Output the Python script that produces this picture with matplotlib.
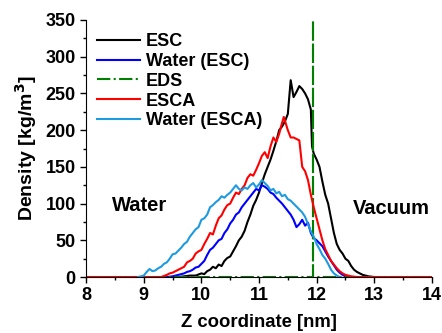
import matplotlib
matplotlib.use("Agg")
import matplotlib.pyplot as plt
from matplotlib.ticker import MultipleLocator

plt.rcParams['font.family'] = ['Liberation Sans', 'DejaVu Sans']
plt.rcParams['font.weight'] = 'bold'
plt.rcParams['mathtext.default'] = 'bf'

# ESC density profile (z in nm, density in kg/m^3)
z_esc = [8.0, 9.60, 9.70, 9.80, 9.90, 10.00, 10.05, 10.10, 10.15, 10.20, 10.25, 10.30, 10.35,
         10.40, 10.45, 10.50, 10.55, 10.60, 10.65, 10.70, 10.75, 10.80, 10.85, 10.90, 10.95,
         11.00, 11.05, 11.10, 11.15, 11.20, 11.25, 11.30, 11.35, 11.40, 11.45, 11.50, 11.55,
         11.60, 11.65, 11.70, 11.75, 11.80, 11.85, 11.90, 11.92, 11.95, 12.00, 12.05, 12.10,
         12.15, 12.20, 12.25, 12.30, 12.35, 12.40, 12.45, 12.50, 12.55, 12.60, 12.65, 12.70,
         12.75, 12.80, 12.90, 13.00, 14.0]
d_esc = [0, 0, 1, 2, 2, 5, 4, 8, 10, 14, 12, 17, 15,
         22, 26, 28, 35, 42, 50, 55, 63, 75, 85, 97, 105,
         115, 128, 140, 150, 160, 172, 185, 200, 205, 212, 222, 268,
         245, 252, 260, 256, 250, 242, 228, 178, 168, 160, 150, 130,
         112, 100, 80, 60, 45, 37, 32, 25, 22, 15, 10, 7,
         5, 3, 1, 0, 0]

# Water density with ESC
z_wesc = [8.0, 9.40, 9.50, 9.60, 9.70, 9.75, 9.80, 9.85, 9.90, 9.95, 10.00, 10.05, 10.10,
          10.15, 10.20, 10.25, 10.30, 10.35, 10.40, 10.45, 10.50, 10.55, 10.60, 10.65, 10.70,
          10.75, 10.80, 10.85, 10.90, 10.95, 11.00, 11.05, 11.10, 11.15, 11.20, 11.25, 11.30,
          11.35, 11.40, 11.45, 11.50, 11.55, 11.60, 11.65, 11.70, 11.75, 11.80, 11.85, 11.90,
          11.95, 12.00, 12.05, 12.10, 12.15, 12.20, 12.25, 12.30, 12.35, 12.40, 12.45, 12.50,
          12.60, 14.0]
d_wesc = [0, 0, 1, 3, 5, 7, 8, 10, 13, 14, 18, 22, 30,
          37, 40, 45, 50, 52, 60, 65, 73, 78, 85, 88, 95,
          100, 105, 110, 115, 120, 118, 125, 123, 120, 115, 113, 108,
          104, 100, 95, 90, 85, 78, 68, 72, 78, 70, 74, 60,
          53, 50, 46, 42, 35, 28, 22, 16, 10, 6, 3, 1,
          0, 0]

# EDS position
z_eds = [8.0, 11.93, 11.93, 11.93, 14.0]
d_eds = [0, 0, 350, 0, 0]

# ESCA density profile
z_esca = [8.0, 9.30, 9.40, 9.45, 9.50, 9.55, 9.60, 9.65, 9.70, 9.75, 9.80, 9.85, 9.90, 9.95,
          10.00, 10.05, 10.10, 10.15, 10.20, 10.25, 10.30, 10.35, 10.40, 10.45, 10.50, 10.55,
          10.60, 10.65, 10.70, 10.75, 10.80, 10.85, 10.90, 10.95, 11.00, 11.05, 11.10, 11.15,
          11.20, 11.25, 11.30, 11.35, 11.40, 11.43, 11.50, 11.55, 11.60, 11.65, 11.70, 11.75,
          11.80, 11.85, 11.90, 11.95, 12.00, 12.05, 12.10, 12.15, 12.20, 12.25, 12.30, 12.35,
          12.40, 12.45, 12.50, 12.60, 12.70, 14.0]
d_esca = [0, 0, 3, 5, 6, 8, 10, 12, 14, 20, 22, 25, 32, 35,
          37, 45, 52, 60, 58, 70, 80, 84, 92, 98, 100, 108,
          115, 113, 120, 125, 135, 140, 138, 146, 155, 165, 170, 162,
          178, 190, 184, 195, 210, 218, 200, 190, 190, 188, 186, 150,
          144, 132, 112, 95, 80, 65, 50, 38, 30, 22, 17, 12,
          8, 5, 3, 1, 0, 0]

# Water density with ESCA
z_wesca = [8.90, 9.00, 9.05, 9.10, 9.15, 9.20, 9.25, 9.30, 9.35, 9.40, 9.45, 9.50, 9.55, 9.60,
           9.65, 9.70, 9.75, 9.80, 9.85, 9.90, 9.95, 10.00, 10.05, 10.10, 10.15, 10.20, 10.25,
           10.30, 10.35, 10.40, 10.45, 10.50, 10.55, 10.60, 10.65, 10.70, 10.75, 10.80, 10.85,
           10.90, 10.95, 11.00, 11.05, 11.10, 11.15, 11.20, 11.25, 11.30, 11.35, 11.40, 11.45,
           11.50, 11.55, 11.60, 11.65, 11.70, 11.75, 11.80, 11.85, 11.90, 11.95, 12.00, 12.05,
           12.10, 12.15, 12.20, 12.25, 12.30, 12.35, 12.40]
d_wesca = [0, 2, 7, 11, 8, 9, 12, 14, 18, 20, 25, 31, 32, 36,
           40, 45, 48, 55, 60, 65, 68, 78, 80, 85, 95, 98, 102,
           105, 110, 108, 112, 115, 120, 125, 120, 118, 122, 120, 125,
           128, 122, 126, 132, 128, 124, 118, 120, 114, 116, 110, 112,
           106, 104, 100, 96, 92, 88, 82, 72, 62, 55, 45, 38,
           30, 25, 18, 10, 5, 2, 0]

fig = plt.figure(figsize=(4.42, 3.33), dpi=100)
ax = fig.add_axes([0.195, 0.168, 0.782, 0.772])

ax.plot(z_esc, d_esc, color='black', lw=1.5, label='ESC')
ax.plot(z_wesc, d_wesc, color='#0000ff', lw=1.5, label='Water (ESC)')
ax.plot(z_eds, d_eds, color='#008000', lw=1.5, ls='-.', label='EDS')
ax.plot(z_esca, d_esca, color='#ff0000', lw=1.5, label='ESCA')
ax.plot(z_wesca, d_wesca, color='#1e9be0', lw=1.5, label='Water (ESCA)')

ax.set_xlim(8, 14)
ax.set_ylim(0, 350)
ax.xaxis.set_major_locator(MultipleLocator(1))
ax.xaxis.set_minor_locator(MultipleLocator(0.5))
ax.yaxis.set_major_locator(MultipleLocator(50))
ax.yaxis.set_minor_locator(MultipleLocator(25))
ax.spines['top'].set_visible(False)
ax.spines['right'].set_visible(False)
ax.tick_params(which='major', direction='out', length=4, width=1, labelsize=13)
ax.tick_params(which='minor', direction='out', length=2.5, width=1)
for lab in ax.get_xticklabels() + ax.get_yticklabels():
    lab.set_fontweight('bold')

ax.set_xlabel('Z coordinate [nm]', fontsize=13.3, fontweight='bold', labelpad=7)
ax.set_ylabel('Density [kg/m$^3$]', fontsize=14, fontweight='bold', labelpad=5)

ax.text(8.45, 98, 'Water', fontsize=14.5, fontweight='bold', va='center')
ax.text(12.63, 93, 'Vacuum', fontsize=14.5, fontweight='bold', va='center')

leg = ax.legend(loc='upper left', bbox_to_anchor=(0.0, 0.99), frameon=False,
                prop={'size': 13, 'weight': 'bold'}, handlelength=2.4,
                handletextpad=0.3, labelspacing=0.15, borderaxespad=0.2)

fig.savefig('out.png', dpi=100)
